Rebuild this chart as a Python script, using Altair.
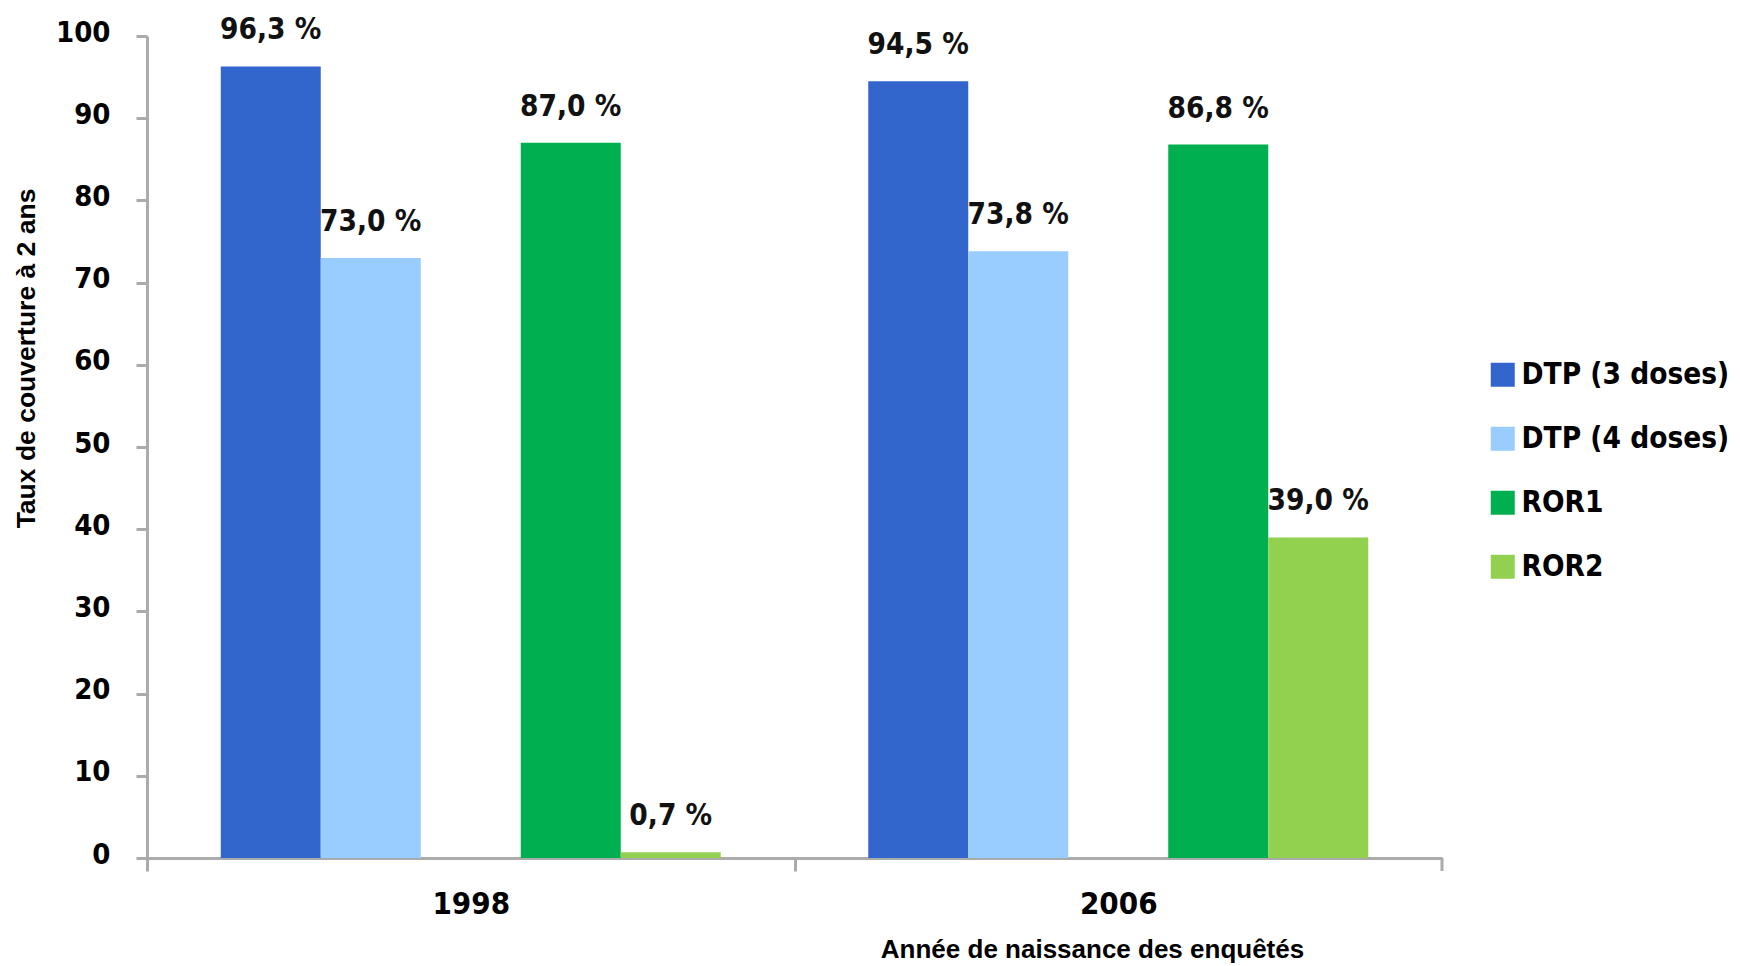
import altair as alt
import pandas as pd

# ---- data ----
years = ["1998", "2006"]
series = ["DTP (3 doses)", "DTP (4 doses)", "ROR1", "ROR2"]
colors = ["#3366CC", "#99CCFF", "#00B050", "#92D050"]
values_1998 = [96.3, 73.0, 87.0, 0.7]
values_2006 = [94.5, 73.8, 86.8, 39.0]
# order of the slots inside each year group (an empty slot between DTP and ROR)
slots = ["DTP (3 doses)", "DTP (4 doses)", "_gap_", "ROR1", "ROR2"]
y_ticks = list(range(0, 101, 10))

rows = []
for year, vals in zip(years, [values_1998, values_2006]):
    for s, v in zip(series, vals):
        rows.append({"year": year, "series": s, "value": v,
                     "label": f"{v:.1f}".replace(".", ",") + " %"})
df = pd.DataFrame(rows)

FONT = "DejaVu Sans Condensed"
TFONT = "Liberation Sans"
GRAY = "#ABABAB"
W, H = 1295, 822

x_enc = alt.X(
    "year:N",
    scale=alt.Scale(paddingInner=0, paddingOuter=0),
    axis=alt.Axis(
        title="Année de naissance des enquêtés",
        labelAngle=0,
        labelFont=FONT, labelFontSize=31, labelFontWeight="bold", labelColor="#000",
        labelPadding=18, labelOffset=W / 4,
        tickSize=13, tickWidth=3, tickColor=GRAY, tickOffset=-W / 4,
        domainColor=GRAY, domainWidth=3,
        titleFont=TFONT, titleFontSize=26, titleFontWeight="bold", titleColor="#000",
        titleX=945, titleY=99, titleAlign="center", titleBaseline="alphabetic",
    ),
)
xoff_enc = alt.XOffset("series:N", scale=alt.Scale(domain=slots, paddingInner=0, paddingOuter=0.7375))
y_enc = alt.Y(
    "value:Q",
    scale=alt.Scale(domain=[0, 100], nice=False),
    axis=alt.Axis(
        values=y_ticks, grid=False,
        title="Taux de couverture à 2 ans",
        labelFont=FONT, labelFontSize=29, labelFontWeight="bold", labelColor="#000",
        labelPadding=26, labelOffset=-4,
        tickSize=11, tickWidth=3, tickColor=GRAY,
        domainColor=GRAY, domainWidth=3,
        titleFont=TFONT, titleFontSize=26.5, titleFontWeight="bold", titleColor="#000",
        titleX=-113, titleY=322, titleAngle=270, titleAlign="center", titleBaseline="alphabetic",
    ),
)
color_enc = alt.Color(
    "series:N",
    scale=alt.Scale(domain=series, range=colors),
    legend=alt.Legend(
        title=None, orient="none", legendX=1341, legendY=324,
        symbolType="square", symbolSize=576, symbolStrokeWidth=0, symbolOpacity=1,
        labelFont=FONT, labelFontSize=29.5, labelFontWeight="bold", labelColor="#000",
        labelOffset=4, rowPadding=33, padding=0, labelLimit=400,
    ),
)

bars = alt.Chart(df).mark_bar(opacity=1).encode(
    x=x_enc, xOffset=xoff_enc, y=y_enc, color=color_enc
)
labels = alt.Chart(df).mark_text(
    dy=-27, baseline="alphabetic", align="center",
    font=FONT, fontSize=29.5, fontWeight="bold", color="#111"
).encode(x=x_enc, xOffset=xoff_enc, y=y_enc, text="label:N")

end_tick = alt.Chart(pd.DataFrame({"a": [0]})).mark_rule(color=GRAY, strokeWidth=3).encode(
    x=alt.value(W), y=alt.value(H), y2=alt.value(H + 13)
)

chart = alt.layer(bars, labels, end_tick).properties(
    width=W, height=H,
    padding={"left": 139, "top": 28, "right": 290, "bottom": 108},
    autosize=alt.AutoSizeParams(type="none"),
).configure_view(strokeWidth=0)

chart.save("out.html", embed_options={"renderer": "svg", "actions": False})
